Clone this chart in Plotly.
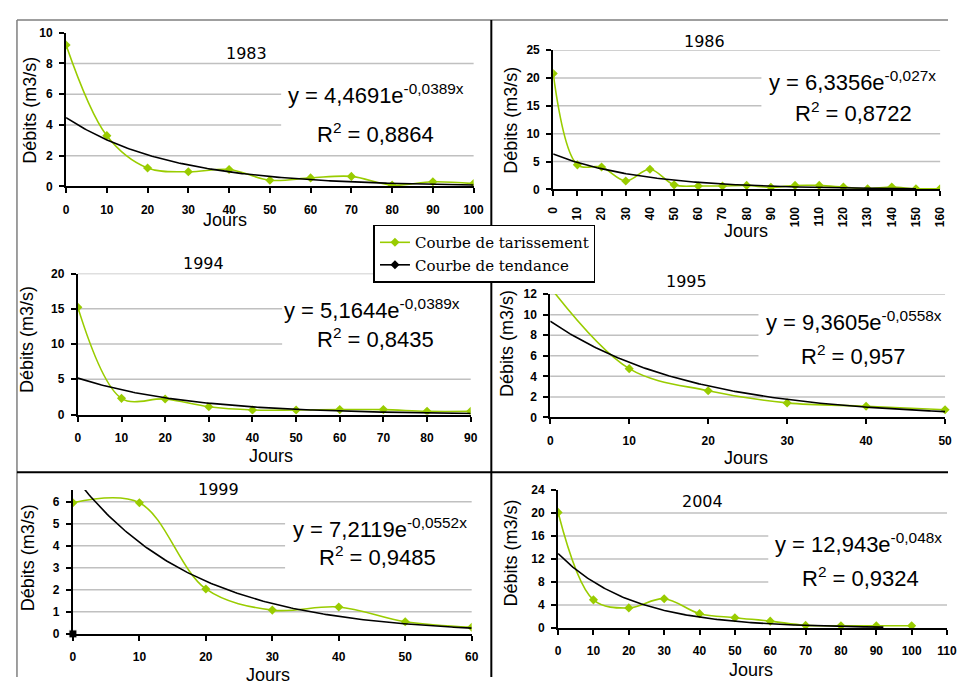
import numpy as np
import plotly.graph_objects as go

# page is 966x692; body keeps its default 8px margin, so the figure is 950x676
PAGE_W, PAGE_H = 966, 692
OFF = 8
W, H = PAGE_W - 2 * OFF, PAGE_H - 2 * OFF

# ---------------- data ----------------
years = ["1983", "1986", "1994", "1995", "1999", "2004"]

jours_1983 = [0, 10, 20, 30, 40, 50, 60, 70, 80, 90, 100]
debits_1983 = [9.2, 3.3, 1.2, 0.95, 1.1, 0.4, 0.55, 0.65, 0.08, 0.3, 0.18]

jours_1986 = [0, 10, 20, 30, 40, 50, 60, 70, 80, 90, 100, 110, 120, 130, 140, 150, 160]
debits_1986 = [20.8, 4.4, 4.0, 1.5, 3.6, 0.8, 0.6, 0.6, 0.7, 0.35, 0.7, 0.7, 0.4, 0.1, 0.4, 0.1, 0.1]

jours_1994 = [0, 10, 20, 30, 40, 50, 60, 70, 80, 90]
debits_1994 = [15.2, 2.3, 2.2, 1.1, 0.65, 0.65, 0.7, 0.7, 0.45, 0.45]

jours_1995 = [0, 10, 20, 30, 40, 50]
debits_1995 = [12.66, 4.75, 2.6, 1.42, 1.1, 0.76]

jours_1999 = [0, 10, 20, 30, 40, 50, 60]
debits_1999 = [5.95, 5.95, 2.04, 1.08, 1.22, 0.55, 0.3]

jours_2004 = [0, 10, 20, 30, 40, 50, 60, 70, 80, 90, 100]
debits_2004 = [20.1, 4.9, 3.5, 5.1, 2.5, 1.8, 1.2, 0.46, 0.4, 0.4, 0.4]

# trend-line equations shown on the chart: y = a * exp(-b x)
coef_a = [4.4691, 6.3356, 5.1644, 9.3605, 7.2119, 12.943]
coef_b = [0.0389, 0.027, 0.0389, 0.0558, 0.0552, 0.048]
a_text = ["4,4691", "6,3356", "5,1644", "9,3605", "7,2119", "12,943"]
b_text = ["0,0389", "0,027", "0,0389", "0,0558", "0,0552", "0,048"]
r2_text = ["0,8864", "0,8722", "0,8435", "0,957", "0,9485", "0,9324"]
trend_end = [100, 150, 90, 50, 60, 92]

# axis scales
y_max = [10, 25, 20, 12, 6.53, 24]
y_step = [2, 5, 5, 2, 1, 4]
y_top_tick = [10, 25, 20, 12, 6, 24]
grid_top = [8, 25, 20, 12, 6, 20]
x_max = [100, 160, 90, 50, 60, 110]

origin_mark_x = [0]
origin_mark_y = [0]

jours = [jours_1983, jours_1986, jours_1994, jours_1995, jours_1999, jours_2004]
debits = [debits_1983, debits_1986, debits_1994, debits_1995, debits_1999, debits_2004]

# ---------------- layout helpers (page pixel -> paper) ----------------
def fx(px):
    return min(max((px - OFF) / W, 0), 1)

def fy(py):
    return min(max(1 - (py - OFF) / H, 0), 1)

# plot areas in page pixels: (x_left, x_right, y_top, y_bottom)
boxes = [
    (60, 475, 26, 183),
    (556, 950, 44, 186),
    (72, 472, 272, 416),
    (553, 955, 293, 419),
    (67, 473, 493, 640),
    (561, 957, 493, 634),
]
title_pos = [(244, 47), (710, 35), (200, 262), (692, 280), (215, 493), (708, 505)]
eq1_pos = [(376, 89), (861, 75), (372, 308), (862, 320), (380, 532), (867, 547)]
eq2_pos = [(375, 128), (862, 107), (375, 338), (862, 355), (377, 560), (869, 582)]
ytitle_pos = [(23, 105), (513, 115), (20, 339), (509, 344), (21, 562), (513, 557)]
xtitle_pos = [(222, 217), (752, 229), (269, 458), (752, 460), (266, 682), (757, 677)]
mask_boxes = [
    (279, 480, 70, 145), (768, 955, 60, 122), (280, 475, 292, 352),
    (765, 958, 303, 372), (283, 476, 515, 575), (775, 958, 532, 598),
]

GREEN = "#99cc00"
GRID = "#c0c0c0"
TICKFONT = dict(family="Liberation Sans, Arial", size=12, color="black", weight="bold")
AXFONT = dict(family="Liberation Sans, Arial", size=18, color="black")
EQFONT = dict(family="Liberation Sans, Arial", size=22, color="black")
TITLEFONT = dict(family="DejaVu Sans, Verdana", size=16, color="black")

fig = go.Figure()
annotations = []
shapes = []

for i in range(6):
    n = "" if i == 0 else str(i + 1)
    xa, ya = "x" + n, "y" + n
    x0, x1, yt, yb = boxes[i]

    # observed recession curve
    fig.add_trace(go.Scatter(
        x=jours[i], y=debits[i], xaxis=xa, yaxis=ya,
        mode="lines+markers", line=dict(color=GREEN, width=1.6, shape="spline", smoothing=1.0),
        marker=dict(symbol="diamond", size=7, color=GREEN),
        showlegend=False, cliponaxis=(i != 3), hoverinfo="x+y",
    ))
    # exponential trend line from the displayed equation
    xt = np.linspace(0, trend_end[i], 200)
    yt_vals = coef_a[i] * np.exp(-coef_b[i] * xt)
    fig.add_trace(go.Scatter(
        x=xt, y=yt_vals, xaxis=xa, yaxis=ya, mode="lines",
        line=dict(color="black", width=1.6), showlegend=False, hoverinfo="skip",
    ))

    tickvals_y = list(np.arange(0, y_top_tick[i] + 1e-9, y_step[i]))
    fig.update_layout(**{
        ("xaxis" + n): dict(
            domain=[fx(x0), fx(x1)], range=[0, x_max[i]], anchor=ya,
            tickmode="linear", tick0=0, dtick=10,
            showgrid=False, zeroline=False, showline=True, linecolor="black", linewidth=2,
            ticks="outside", ticklen=5, tickwidth=1.5, tickcolor="black",
            tickfont=TICKFONT, tickangle=(-90 if i == 1 else 0),
            ticklabelstandoff=6,
        ),
        ("yaxis" + n): dict(
            domain=[fy(yb), fy(yt)], range=[0, y_max[i]], anchor=xa,
            tickmode="array", tickvals=tickvals_y, ticktext=[str(int(v)) for v in tickvals_y],
            showgrid=False, zeroline=False, showline=True, linecolor="black", linewidth=2,
            ticks="outside", ticklen=5, tickwidth=1.5, tickcolor="black",
            tickfont=TICKFONT, ticklabelstandoff=4,
        ),
    })

    # horizontal gridlines
    for g in np.arange(y_step[i], grid_top[i] + 1e-9, y_step[i]):
        shapes.append(dict(type="line", xref=xa + " domain", yref=ya, x0=0, x1=1, y0=g, y1=g,
                           line=dict(color=GRID, width=1.5), layer="below"))

    # white mask hiding the gridlines under the equation label
    mx0, mx1, my0, my1 = mask_boxes[i]
    shapes.append(dict(type="rect", xref="paper", yref="paper", x0=fx(mx0), x1=fx(mx1),
                       y0=fy(my1), y1=fy(my0), fillcolor="white", line=dict(width=0),
                       layer="between"))

    # year title
    annotations.append(dict(text=years[i], x=fx(title_pos[i][0]), y=fy(title_pos[i][1]),
                            xref="paper", yref="paper", showarrow=False, font=TITLEFONT,
                            xanchor="center", yanchor="middle"))
    # equation and R²
    annotations.append(dict(text="y = %se<sup>-%sx</sup>" % (a_text[i], b_text[i]),
                            x=fx(eq1_pos[i][0]), y=fy(eq1_pos[i][1]), xref="paper", yref="paper",
                            showarrow=False, font=EQFONT, xanchor="center", yanchor="middle"))
    annotations.append(dict(text="R<sup>2</sup> = %s" % r2_text[i],
                            x=fx(eq2_pos[i][0]), y=fy(eq2_pos[i][1]), xref="paper", yref="paper",
                            showarrow=False, font=EQFONT, xanchor="center", yanchor="middle"))
    # axis titles
    annotations.append(dict(text="Débits (m3/s)", x=fx(ytitle_pos[i][0]), y=fy(ytitle_pos[i][1]),
                            xref="paper", yref="paper", showarrow=False, font=AXFONT, textangle=-90,
                            xanchor="center", yanchor="middle"))
    annotations.append(dict(text="Jours", x=fx(xtitle_pos[i][0]), y=fy(xtitle_pos[i][1]),
                            xref="paper", yref="paper", showarrow=False, font=AXFONT,
                            xanchor="center", yanchor="middle"))

# small square mark at the origin of the 1999 panel
fig.add_trace(go.Scatter(x=origin_mark_x, y=origin_mark_y, xaxis="x5", yaxis="y5", mode="markers",
                         marker=dict(symbol="square", size=8, color="black",
                                     line=dict(color="white", width=1)),
                         showlegend=False, cliponaxis=False, hoverinfo="skip"))

# legend entries
fig.add_trace(go.Scatter(x=[None], y=[None], mode="lines+markers", name="Courbe de tarissement",
                         line=dict(color=GREEN, width=1.6), marker=dict(symbol="diamond", size=7, color=GREEN)))
fig.add_trace(go.Scatter(x=[None], y=[None], mode="lines+markers", name="Courbe de tendance",
                         line=dict(color="black", width=1.6), marker=dict(symbol="diamond", size=7, color="black")))

# frame lines
shapes += [
    dict(type="line", xref="paper", yref="paper", x0=fx(10), x1=fx(963), y0=fy(13), y1=fy(13),
         line=dict(color="#7f7f7f", width=1.5)),
    dict(type="line", xref="paper", yref="paper", x0=fx(10), x1=fx(10), y0=fy(13), y1=fy(700),
         line=dict(color="#7f7f7f", width=1.5)),
    dict(type="line", xref="paper", yref="paper", x0=fx(493), x1=fx(493), y0=fy(13), y1=fy(700),
         line=dict(color="black", width=2)),
    dict(type="line", xref="paper", yref="paper", x0=fx(10), x1=fx(970), y0=fy(475), y1=fy(475),
         line=dict(color="black", width=2)),
]

fig.update_layout(
    width=W, height=H, margin=dict(l=0, r=0, t=0, b=0),
    paper_bgcolor="white", plot_bgcolor="white",
    annotations=annotations, shapes=shapes,
    showlegend=True,
    legend=dict(x=fx(373), y=fy(222), xanchor="left", yanchor="top",
                bgcolor="white", bordercolor="black", borderwidth=1.5,
                font=dict(family="DejaVu Serif, Liberation Serif, serif", size=15, color="black"),
                tracegroupgap=0, itemwidth=30),
    hovermode="closest",
)

fig.write_html("out.html", config={"displayModeBar": False})
